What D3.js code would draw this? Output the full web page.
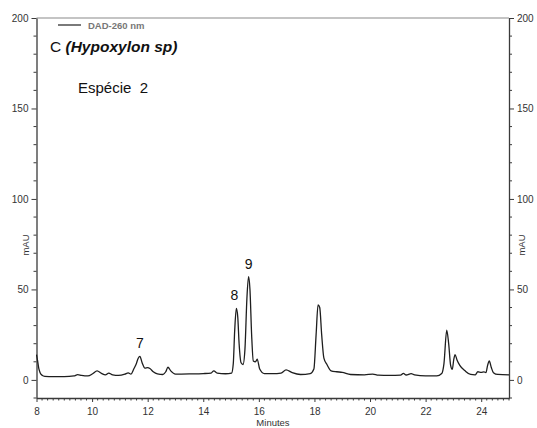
<!DOCTYPE html>
<html>
<head>
<meta charset="utf-8">
<script src="https://cdn.jsdelivr.net/npm/d3@7"></script>
<style>
  html, body { margin: 0; padding: 0; background: #fff; }
  svg { display: block; font-family: "Liberation Sans", Arial, sans-serif; }
</style>
</head>
<body>
<svg id="chart" width="537" height="428"></svg>
<script>
// Retention time (minutes) and detector response (mAU) of the DAD-260 nm trace
const times = [
  8.00, 8.04, 8.08, 8.13, 8.20, 8.30, 8.60, 9.00, 9.35, 9.48, 9.62, 9.85,
  10.02, 10.18, 10.34, 10.48, 10.60, 10.74, 10.95, 11.18, 11.30, 11.40,
  11.50, 11.58, 11.66, 11.72, 11.80, 11.90, 12.00, 12.08, 12.20, 12.35,
  12.55, 12.65, 12.73, 12.83, 13.00, 13.50, 14.00, 14.28, 14.38, 14.50,
  14.80, 15.02, 15.08, 15.13, 15.19, 15.24, 15.29, 15.36, 15.43, 15.50,
  15.57, 15.63, 15.68, 15.74, 15.80, 15.88, 15.94, 16.03, 16.20, 16.50,
  16.80, 16.98, 17.20, 17.50, 17.85, 17.98, 18.06, 18.13, 18.19, 18.26,
  18.34, 18.45, 18.60, 18.80, 19.00, 19.30, 19.80, 20.10, 20.30, 20.70,
  21.10, 21.20, 21.30, 21.48, 21.60, 22.00, 22.40, 22.58, 22.66, 22.76,
  22.83, 22.90, 22.96, 23.01, 23.06, 23.13, 23.23, 23.42, 23.62, 23.78,
  23.88, 24.00, 24.10, 24.17, 24.23, 24.29, 24.36, 24.44, 24.60, 25.00
];
const values = [
  14.0, 10.5, 6.5, 4.0, 2.6, 2.0, 1.8, 1.8, 2.2, 2.9, 2.5, 2.2,
  3.4, 5.0, 3.6, 2.8, 3.8, 2.8, 2.5, 3.2, 3.9, 3.2,
  6.0, 8.5, 12.0, 13.0, 9.5, 6.5, 6.8, 6.3, 4.5, 3.3,
  3.0, 4.5, 7.0, 5.0, 3.2, 3.3, 3.5, 3.8, 5.0, 3.8,
  3.4, 3.8, 9.0, 27.0, 39.5, 35.0, 20.0, 9.5, 8.5, 17.0,
  45.0, 57.0, 50.0, 25.0, 10.5, 10.0, 11.5, 6.0, 3.5, 3.5,
  3.8, 5.5, 4.0, 3.0, 3.5, 6.0, 25.0, 41.5, 40.0, 25.0,
  12.0, 8.5, 5.0, 4.5, 4.2, 3.0, 2.8, 3.2, 2.6, 2.5,
  2.6, 3.6, 2.7, 3.5, 2.8, 2.2, 2.2, 3.5, 9.0, 27.5,
  20.0, 8.0, 5.8, 11.0, 14.0, 11.0, 8.0, 5.0, 3.0, 2.8,
  4.5, 4.2, 4.4, 4.0, 8.0, 10.5, 7.0, 4.0, 3.0, 2.8
];

// Axis settings
const xDomain = [8, 25];
const yDomain = [-10, 200];
const xMajorTicks = [8, 10, 12, 14, 16, 18, 20, 22, 24];
const yMajorTicks = [0, 50, 100, 150, 200];

// Annotated peaks: number, retention time and height
const peakLabels = ["7", "8", "9"];
const peakTimes = [11.72, 15.19, 15.63];
const peakValues = [13.0, 39.5, 57.0];

const svg = d3.select("#chart");
const plotLeft = 36.5, plotRight = 509, plotTop = 18, plotBottom = 398;

const x = d3.scaleLinear().domain(xDomain).range([plotLeft, plotRight]);
const y = d3.scaleLinear().domain(yDomain).range([plotBottom, plotTop]);

const axisColor = "#3a3a3a";
const textColor = "#333";

// Top frame line
svg.append("line")
  .attr("x1", plotLeft).attr("x2", plotRight)
  .attr("y1", plotTop).attr("y2", plotTop)
  .attr("stroke", "#8a8a8a").attr("stroke-width", 1.2);

// X axis: minor ticks every 0.2 min, labelled majors every 2 min
const xMinor = d3.range(80, 251, 2).map(v => v / 10).filter(v => !xMajorTicks.includes(v));
const xAxis = svg.append("g").attr("transform", `translate(0,${plotBottom})`);
xAxis.call(d3.axisBottom(x).tickValues(xMajorTicks).tickSize(4).tickSizeOuter(0).tickPadding(6).tickFormat(d3.format("d")));
xAxis.append("g").selectAll("line").data(xMinor).join("line")
  .attr("x1", d => x(d)).attr("x2", d => x(d)).attr("y1", 0).attr("y2", 2.5)
  .attr("stroke", axisColor);

// Left and right Y axes: minor ticks every 10 mAU
const yMinor = d3.range(-10, 201, 10).filter(v => !yMajorTicks.includes(v));
const yLeft = svg.append("g").attr("transform", `translate(${plotLeft},0)`);
yLeft.call(d3.axisLeft(y).tickValues(yMajorTicks).tickSize(5).tickSizeOuter(0).tickPadding(3));
yLeft.append("g").selectAll("line").data(yMinor).join("line")
  .attr("x1", 0).attr("x2", -3).attr("y1", d => y(d)).attr("y2", d => y(d))
  .attr("stroke", axisColor);

const yRight = svg.append("g").attr("transform", `translate(${plotRight},0)`);
yRight.call(d3.axisRight(y).tickValues(yMajorTicks).tickSize(5).tickSizeOuter(0).tickPadding(3));
yRight.append("g").selectAll("line").data(yMinor).join("line")
  .attr("x1", 0).attr("x2", 3).attr("y1", d => y(d)).attr("y2", d => y(d))
  .attr("stroke", axisColor);

svg.selectAll(".domain").attr("stroke", axisColor).attr("stroke-width", 1.3);
svg.selectAll(".tick line").attr("stroke", axisColor);
svg.selectAll(".tick text").attr("fill", textColor).attr("font-size", 10)
  .attr("font-family", "Liberation Sans, Arial, sans-serif");

// Axis titles
svg.append("text").attr("x", 273).attr("y", 426).attr("text-anchor", "middle")
  .attr("font-size", 9.5).attr("fill", textColor).text("Minutes");
svg.append("text").attr("transform", "translate(29,245) rotate(-90)")
  .attr("text-anchor", "middle").attr("font-size", 9.5).attr("fill", textColor).text("mAU");
svg.append("text").attr("transform", "translate(525,245) rotate(-90)")
  .attr("text-anchor", "middle").attr("font-size", 9.5).attr("fill", textColor).text("mAU");

// Chromatogram trace
const trace = times.map((t, i) => [t, values[i]]);
svg.append("path").datum(trace)
  .attr("fill", "none").attr("stroke", "#1e1e1e").attr("stroke-width", 1.3)
  .attr("stroke-linejoin", "round")
  .attr("d", d3.line().x(d => x(d[0])).y(d => y(d[1])).curve(d3.curveMonotoneX));

// Legend
svg.append("line").attr("x1", 58).attr("x2", 81).attr("y1", 25).attr("y2", 25)
  .attr("stroke", "#222").attr("stroke-width", 1.2);
svg.append("text").attr("x", 88).attr("y", 28.5).attr("font-size", 9.5)
  .attr("font-weight", "bold").attr("fill", "#777").text("DAD-260 nm");

// Titles
const title = svg.append("text").attr("x", 50).attr("y", 52).attr("font-size", 15.5).attr("fill", "#111");
title.append("tspan").text("C ");
title.append("tspan").attr("font-weight", "bold").attr("font-style", "italic").text("(Hypoxylon sp)");

svg.append("text").attr("x", 78).attr("y", 93).attr("font-size", 15).attr("fill", "#111")
  .style("white-space", "pre").text("Espécie  2");

// Peak numbers
svg.append("g").selectAll("text").data(peakLabels).join("text")
  .attr("x", (d, i) => x(peakTimes[i]) - (i === 1 ? 2 : 0))
  .attr("y", (d, i) => y(peakValues[i]) - 8)
  .attr("text-anchor", "middle").attr("font-size", 14).attr("fill", "#111")
  .text(d => d);
</script>
</body>
</html>
